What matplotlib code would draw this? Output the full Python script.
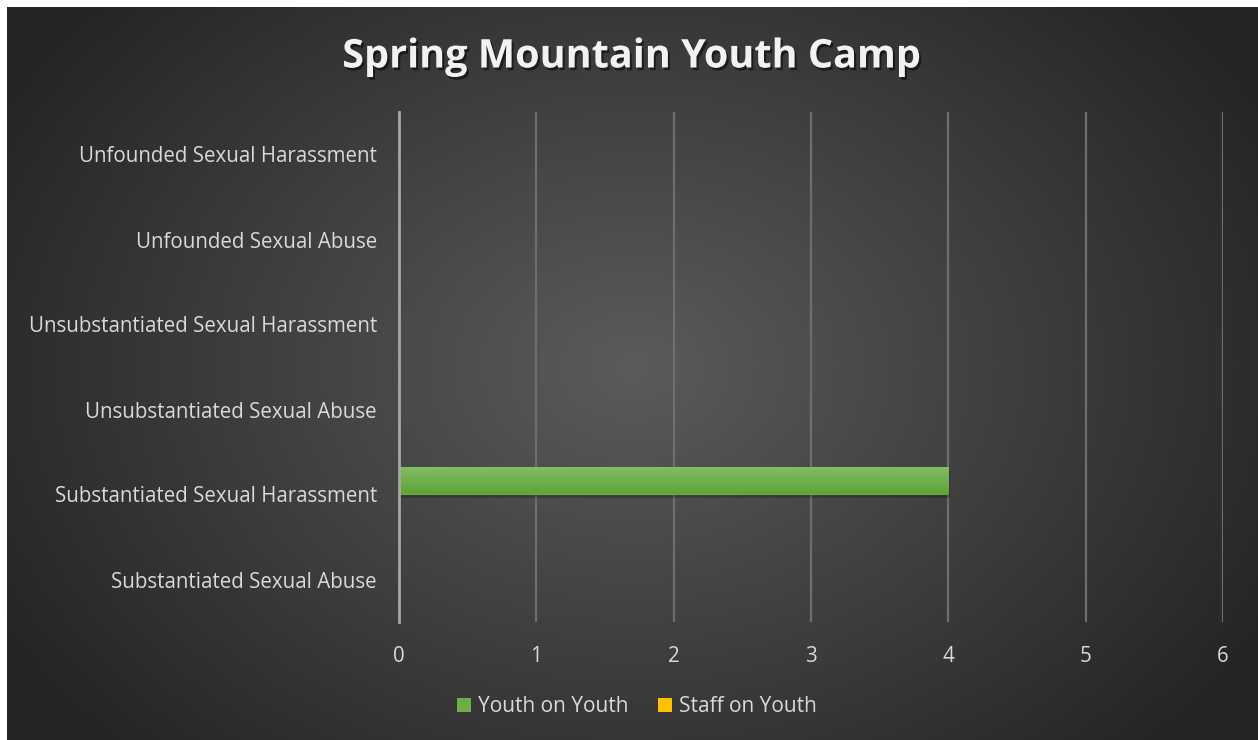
import numpy as np
import matplotlib as mpl
mpl.use('Agg')
import matplotlib.pyplot as plt
import matplotlib.patheffects as pe

# ========================================================================
# Data
# ========================================================================
categories = ['Substantiated Sexual Abuse',
              'Substantiated Sexual Harassment',
              'Unsubstantiated Sexual Abuse',
              'Unsubstantiated Sexual Harassment',
              'Unfounded Sexual Abuse',
              'Unfounded Sexual Harassment']
youth_on_youth = [0, 4, 0, 0, 0, 0]
staff_on_youth = [0, 0, 0, 0, 0, 0]
xticks = [0, 1, 2, 3, 4, 5, 6]
title = 'Spring Mountain Youth Camp'

green = '#70ad47'
gold = '#ffc000'
txtcol = '#d9d9d9'
font = 'Open Sans'

W, H = 1258, 740
fig = plt.figure(figsize=(W / 100, H / 100), dpi=100)
fig.patch.set_facecolor('white')

# ========================================================================
# Radial gradient background (panel with white strip top/left)
# ========================================================================
bg = fig.add_axes([7 / W, 0, 1 - 7 / W, 1 - 7 / H])
bg.set_axis_off()
yy, xx = np.mgrid[0:733, 0:1251]
cx, cy = 625, 360
r = np.sqrt(((xx - cx) / 1.0) ** 2 + ((yy - cy) / 0.75) ** 2)
r = np.clip(r / 720.0, 0, 1)
c0 = np.array([0x5b, 0x5b, 0x5b]) / 255.
c1 = np.array([0x25, 0x25, 0x25]) / 255.
img = c0[None, None, :] * (1 - r[..., None]) + c1[None, None, :] * r[..., None]
bg.imshow(img, aspect='auto', interpolation='bilinear')

# ========================================================================
# Bars
# ========================================================================
ax = fig.add_axes([399 / W, 1 - 622 / H, (1223 - 399) / W, (622 - 112) / H])
ax.patch.set_alpha(0)
ypos = np.arange(len(categories))
h = 0.318
bars = ax.barh(ypos + h / 2, youth_on_youth, height=h, color=green,
               zorder=3, label='Youth on Youth')
ax.barh(ypos - h / 2, staff_on_youth, height=h, color=gold,
        zorder=3, label='Staff on Youth')

# soft drop shadow + vertical gradient on the drawn bars
grad = np.linspace(0, 1, 64)[:, None, None]
top = np.array([0x85, 0xbe, 0x65]) / 255.
bot = np.array([0x5f, 0xa3, 0x35]) / 255.
gimg = top * (1 - grad) + bot * grad
for b in bars:
    if b.get_width() <= 0:
        continue
    b.set_path_effects([pe.SimplePatchShadow(offset=(1.5, -2.5), shadow_rgbFace='black',
                                             alpha=0.22), pe.Normal()])
    x0, y0 = b.get_x(), b.get_y()
    im = ax.imshow(gimg, extent=[x0, x0 + b.get_width(), y0, y0 + b.get_height()],
                   aspect='auto', origin='upper', zorder=3.5, interpolation='bilinear')
    im.set_clip_path(b)

ax.set_xlim(xticks[0], xticks[-1])
ax.set_ylim(-0.5, len(categories) - 0.5)
ax.set_xticks(xticks)
ax.set_yticks(ypos)
ax.set_yticklabels(categories)
ax.grid(axis='x', color='#6e6e6e', lw=1.6, zorder=1)
for s in ['top', 'right', 'bottom']:
    ax.spines[s].set_visible(False)
ax.spines['left'].set_color('#a6a6a6')
ax.spines['left'].set_linewidth(2)
ax.spines['left'].set_zorder(4)
ax.tick_params(axis='both', length=0, colors=txtcol)
ax.tick_params(axis='y', pad=16)
ax.tick_params(axis='x', pad=17)
for lab in ax.get_xticklabels() + ax.get_yticklabels():
    lab.set_fontfamily(font)
    lab.set_fontsize(14.8)
    lab.set_color(txtcol)

# ========================================================================
# Title and legend
# ========================================================================
fig.text(632 / W, 1 - 57 / H, title, ha='center', va='center',
         fontsize=28.5, fontweight='bold', fontfamily=font, color='#f2f2f2',
         path_effects=[pe.withSimplePatchShadow(offset=(1.5, -2),
                                                shadow_rgbFace='black', alpha=0.5)])

leg = fig.legend(loc='center', bbox_to_anchor=(637 / W, 1 - 707 / H),
                 ncol=2, frameon=False, handlelength=0.67, handleheight=0.67,
                 handletextpad=0.3, columnspacing=1.45,
                 prop={'family': font, 'size': 15})
for t in leg.get_texts():
    t.set_color(txtcol)

fig.savefig('out.png', dpi=100, facecolor=fig.get_facecolor())
